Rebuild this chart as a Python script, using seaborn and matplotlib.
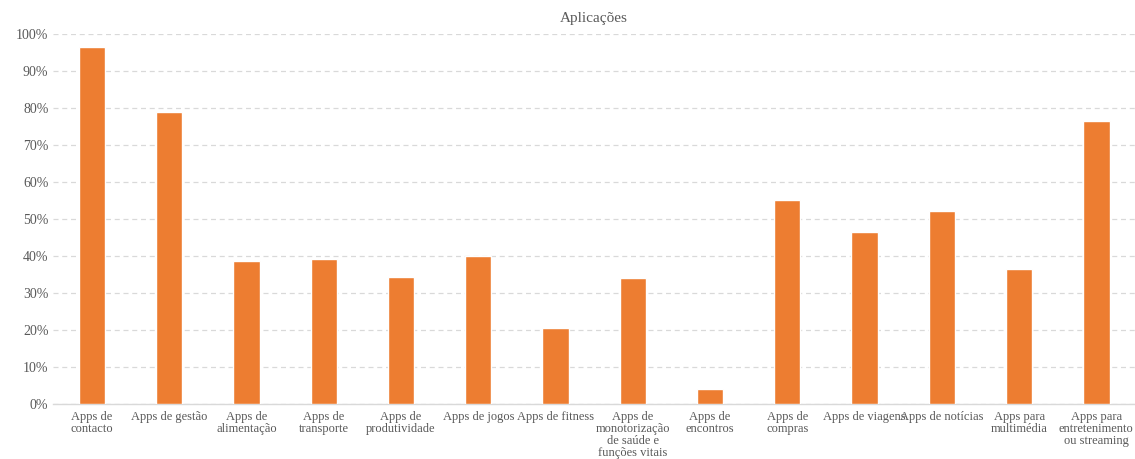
import matplotlib
matplotlib.use("Agg")
import matplotlib.pyplot as plt
import seaborn as sns
import pandas as pd
from matplotlib.ticker import PercentFormatter, MultipleLocator

categorias = [
    "Apps de\ncontacto",
    "Apps de gestão",
    "Apps de\nalimentação",
    "Apps de\ntransporte",
    "Apps de\nprodutividade",
    "Apps de jogos",
    "Apps de fitness",
    "Apps de\nmonotorização\nde saúde e\nfunções vitais",
    "Apps de\nencontros",
    "Apps de\ncompras",
    "Apps de viagens",
    "Apps de notícias",
    "Apps para\nmultimédia",
    "Apps para\nentretenimento\nou streaming",
]
valores = [96.5, 78.9, 38.6, 39.3, 34.3, 40.1, 20.5, 34.0, 4.1, 55.1, 46.6, 52.1, 36.5, 76.5]

df = pd.DataFrame({"categoria": categorias, "valor": valores})

sns.set_theme(style="white")
plt.rcParams["font.family"] = ["Liberation Serif", "DejaVu Serif"]

fig = plt.figure(figsize=(11.35, 4.59), dpi=100)
ax = fig.add_axes([0.047, 0.12, 0.953, 0.806])

sns.barplot(data=df, x="categoria", y="valor", color="#ED7D31", saturation=1,
            width=0.34, ax=ax, zorder=3)

ax.set_ylim(0, 100)
ax.yaxis.set_major_locator(MultipleLocator(10))
ax.yaxis.set_major_formatter(PercentFormatter(decimals=0))
ax.grid(axis="y", color="#d9d9d9", linestyle=(0, (4, 3)), linewidth=0.9, zorder=0)
ax.set_axisbelow(True)

for s in ["top", "right", "left"]:
    ax.spines[s].set_visible(False)
ax.spines["bottom"].set_color("#d9d9d9")
ax.spines["bottom"].set_linewidth(1)

ax.set_xlabel("")
ax.set_ylabel("")
ax.tick_params(axis="both", length=0, colors="#595959", labelsize=10)
ax.tick_params(axis="x", pad=5, labelsize=9)
for lab in ax.get_xticklabels():
    lab.set_linespacing(1.02)
ax.set_xlim(-0.5, len(categorias) - 0.5)

fig.text(0.523, 0.96, "Aplicações", ha="center", va="center", fontsize=11, color="#595959")

fig.savefig("out.png", dpi=100, facecolor="white")
